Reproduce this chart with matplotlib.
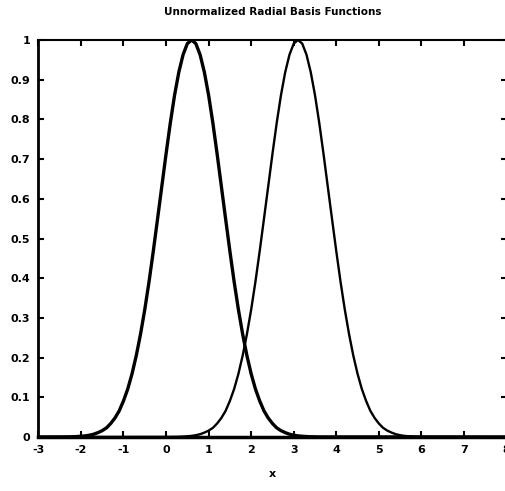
import matplotlib
matplotlib.use("Agg")
import matplotlib.pyplot as plt
import numpy as np

plt.rcParams['font.family'] = ['Liberation Sans Narrow', 'DejaVu Sans']

# sample positions used when reading the curves off the picture (step 0.1)
x1 = [-3] + list(np.round(np.arange(-2.4, 3.65, 0.1), 1)) + [8]
x2 = [-3] + list(np.round(np.arange(0.1, 6.15, 0.1), 1)) + [8]

# first basis function (peak near 0.6)
rbf1 = [0,
        0.0002, 0.0004, 0.0006, 0.0011, 0.0018, 0.0028, 0.0045, 0.007, 0.011, 0.016,
        0.023, 0.034, 0.048, 0.066, 0.091, 0.121, 0.159, 0.205, 0.259, 0.321,
        0.391, 0.468, 0.549, 0.631, 0.713, 0.791, 0.861, 0.919, 0.963, 0.991,
        1.000,
        0.991, 0.963, 0.919, 0.861, 0.791, 0.713, 0.631, 0.549, 0.468, 0.391,
        0.321, 0.259, 0.205, 0.159, 0.121, 0.091, 0.066, 0.048, 0.034, 0.023,
        0.016, 0.011, 0.007, 0.0045, 0.0028, 0.0018, 0.0011, 0.0006, 0.0004, 0.0002,
        0]

# second basis function (peak near 3.1)
rbf2 = [0,
        0.0002, 0.0004, 0.0006, 0.0011, 0.0018, 0.0028, 0.0045, 0.007, 0.011, 0.016,
        0.023, 0.034, 0.048, 0.066, 0.091, 0.121, 0.159, 0.205, 0.259, 0.321,
        0.391, 0.468, 0.549, 0.631, 0.713, 0.791, 0.861, 0.919, 0.963, 0.991,
        1.000,
        0.991, 0.963, 0.919, 0.861, 0.791, 0.713, 0.631, 0.549, 0.468, 0.391,
        0.321, 0.259, 0.205, 0.159, 0.121, 0.091, 0.066, 0.048, 0.034, 0.023,
        0.016, 0.011, 0.007, 0.0045, 0.0028, 0.0018, 0.0011, 0.0006, 0.0004, 0.0002,
        0]

xticks = [-3, -2, -1, 0, 1, 2, 3, 4, 5, 6, 7, 8]
yticks = [0, 0.1, 0.2, 0.3, 0.4, 0.5, 0.6, 0.7, 0.8, 0.9, 1]
ylabels = ['0', '0.1', '0.2', '0.3', '0.4', '0.5', '0.6', '0.7', '0.8', '0.9', '1']

fig = plt.figure(figsize=(5.05, 4.91), dpi=100)
ax = fig.add_axes([0.076, 0.110, 0.927, 0.8085])

ax.plot(x1, rbf1, color='black', lw=2.4)
ax.plot(x2, rbf2, color='black', lw=1.7)

ax.set_xlim(-3, 8)
ax.set_ylim(0, 1)
ax.set_xticks(xticks)
ax.set_xticklabels([str(t) for t in xticks])
ax.set_yticks(yticks)
ax.set_yticklabels(ylabels)

ax.tick_params(direction='in', length=4, width=1.5, top=True, right=True,
               labelsize=8, pad=6)
for lab in ax.get_xticklabels() + ax.get_yticklabels():
    lab.set_fontweight('bold')

ax.spines['left'].set_linewidth(2.0)
ax.spines['bottom'].set_linewidth(2.5)
ax.spines['top'].set_linewidth(1.5)
ax.spines['right'].set_linewidth(1.5)

ax.set_xlabel('x', fontsize=8, fontweight='bold', labelpad=10)
ax.set_title('Unnormalized Radial Basis Functions', fontsize=7.5, fontweight='bold', pad=18)

fig.savefig('out.png', dpi=100)
